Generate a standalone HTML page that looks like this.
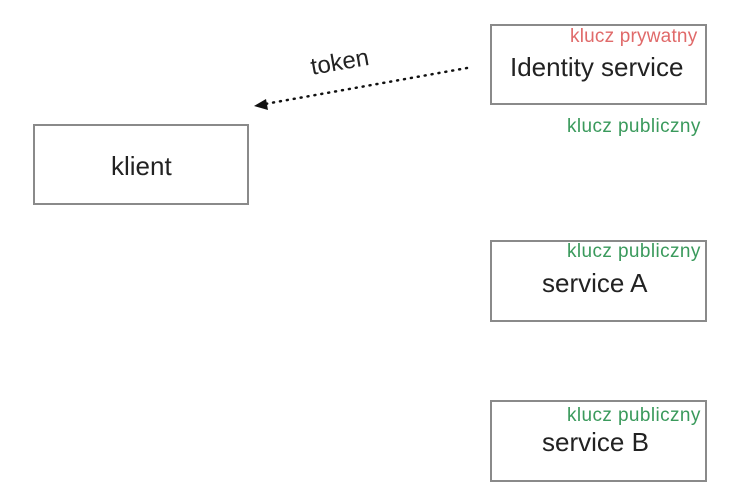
<!DOCTYPE html>
<html><head><style>
body{margin:0;width:753px;height:502px;background:#fff;position:relative;font-family:"Liberation Sans",sans-serif;overflow:hidden}
.b{position:absolute;border:2px solid #8a8a8a;box-sizing:border-box}
.t{position:absolute;white-space:nowrap;color:#222}
.g{position:absolute;white-space:nowrap;color:#3a9a5c;font-size:19px;letter-spacing:0.4px}
</style></head><body>
<div class="b" style="left:490px;top:24px;width:217px;height:81px"></div>
<div class="b" style="left:33px;top:124px;width:216px;height:81px"></div>
<div class="b" style="left:490px;top:240px;width:217px;height:82px"></div>
<div class="b" style="left:490px;top:400px;width:217px;height:82px"></div>
<div class="t" style="left:570px;top:26px;font-size:19px;letter-spacing:0.2px;color:#e06a6a">klucz prywatny</div>
<div class="t" style="left:510px;top:52px;font-size:26px">Identity service</div>
<div class="g" style="left:567px;top:116px">klucz publiczny</div>
<div class="t" style="left:111px;top:151px;font-size:26px">klient</div>
<div class="g" style="left:567px;top:241px">klucz publiczny</div>
<div class="t" style="left:542px;top:268px;font-size:26px">service A</div>
<div class="g" style="left:567px;top:405px">klucz publiczny</div>
<div class="t" style="left:542px;top:427px;font-size:26px">service B</div>
<div class="t" style="left:311px;top:54px;font-size:24px;transform:rotate(-10deg);transform-origin:left center">token</div>
<svg style="position:absolute;left:0;top:0" width="753" height="502">
<line x1="467" y1="68" x2="265" y2="104" stroke="#111" stroke-width="2.5" stroke-dasharray="1,6" stroke-linecap="round"/>
<polygon points="254,106 266,99 268,110" fill="#111"/>
</svg>
</body></html>
